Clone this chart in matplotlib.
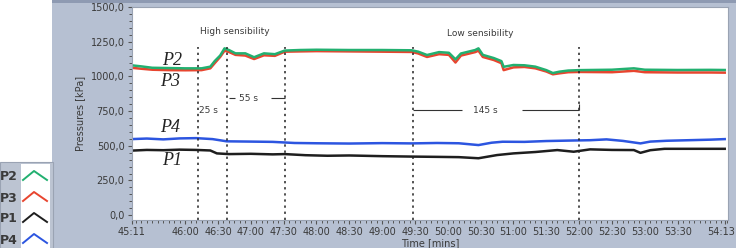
import matplotlib
matplotlib.use("Agg")
import matplotlib.pyplot as plt
from matplotlib.patches import Rectangle
from matplotlib.lines import Line2D
from matplotlib.ticker import MultipleLocator
from matplotlib.transforms import ScaledTranslation


def sec(s):
    m, ss = s.split(":")
    return int(m) * 60 + int(ss)


# P2 / P3 (upper pair)
t_up = ["45:11", "45:20", "45:30", "45:45", "46:00", "46:15", "46:23", "46:27", "46:32", "46:36",
        "46:40", "46:46", "46:55", "47:03", "47:12", "47:22", "47:31", "47:45", "48:00", "48:30",
        "49:00", "49:27", "49:33", "49:41", "49:52", "50:01", "50:07", "50:12", "50:25", "50:28",
        "50:32", "50:42", "50:49", "50:51", "51:00", "51:10", "51:20", "51:30", "51:36", "51:42",
        "51:50", "52:00", "52:30", "52:50", "53:00", "53:30", "54:00", "54:13"]
p2 = [1080, 1072, 1062, 1060, 1058, 1058, 1070, 1110, 1150, 1202,
      1190, 1166, 1166, 1138, 1166, 1160, 1186, 1190, 1192, 1190,
      1190, 1188, 1178, 1154, 1175, 1170, 1123, 1165, 1190, 1202,
      1155, 1132, 1110, 1069, 1082, 1080, 1070, 1045, 1024, 1034,
      1042, 1045, 1048, 1058, 1048, 1046, 1047, 1046]
p3 = [1062, 1055, 1048, 1045, 1044, 1045, 1058, 1095, 1140, 1185,
      1176, 1155, 1150, 1125, 1152, 1148, 1178, 1180, 1182, 1180,
      1178, 1176, 1165, 1140, 1160, 1155, 1100, 1150, 1175, 1185,
      1140, 1118, 1095, 1045, 1065, 1068, 1058, 1035, 1015, 1022,
      1030, 1032, 1030, 1040, 1030, 1028, 1028, 1027]

# P4
t_p4 = ["45:11", "45:25", "45:40", "45:55", "46:10", "46:25", "46:38", "47:00", "47:20", "47:40",
        "48:00", "48:30", "49:00", "49:27", "49:50", "50:10", "50:28", "50:40", "50:50", "51:10",
        "51:30", "51:55", "52:10", "52:25", "52:40", "52:56", "53:05", "53:20", "53:40", "54:00", "54:13"]
p4 = [548, 552, 546, 553, 555, 548, 532, 530, 528, 520,
      518, 516, 519, 517, 520, 518, 505, 522, 529, 528,
      534, 538, 540, 546, 535, 517, 530, 536, 540, 544, 548]

# P1
t_p1 = ["45:11", "45:25", "45:40", "45:55", "46:10", "46:23", "46:29", "46:40", "47:00", "47:20",
        "47:31", "47:50", "48:10", "48:30", "49:00", "49:27", "49:50", "50:10", "50:28", "50:45",
        "51:00", "51:20", "51:40", "51:55", "52:10", "52:30", "52:50", "52:56", "53:05", "53:18",
        "53:40", "54:13"]
p1 = [465, 470, 468, 472, 470, 466, 445, 440, 442, 438,
      440, 432, 428, 430, 425, 422, 420, 418, 410, 433,
      445, 455, 469, 457, 474, 470, 469, 449, 468, 478,
      478, 478]

markers = ["46:12", "46:38", "47:31", "49:28", "52:00"]
xtick_labels = ["45:11", "46:00", "46:30", "47:00", "47:30", "48:00", "48:30", "49:00", "49:30",
                "50:00", "50:30", "51:00", "51:30", "52:00", "52:30", "53:00", "53:30", "54:13"]
yticks = [0, 250, 500, 750, 1000, 1250, 1500]

c_p2, c_p3, c_p1, c_p4 = "#22b070", "#e8452f", "#1e1e1e", "#2c55e0"
panel = "#b6c0d2"
txt = "#3a3a3a"

fig = plt.figure(figsize=(7.36, 2.48), dpi=100)
fig.patch.set_facecolor("white")

# grey panel behind the chart
fig.add_artist(Rectangle((52 / 736, 0), 1, 1, transform=fig.transFigure,
                         facecolor=panel, edgecolor="none", zorder=-5))
fig.add_artist(Rectangle((52 / 736, 1 - 3 / 248), 1, 3 / 248, transform=fig.transFigure,
                         facecolor="#8e9ab2", edgecolor="none", zorder=-4))

ax = fig.add_axes([131.5 / 736, 1 - 220 / 248, (728 - 131.5) / 736, 213 / 248])
ax.set_facecolor("white")

ax.plot([sec(t) for t in t_up], p3, color=c_p3, lw=1.8)
ax.plot([sec(t) for t in t_up], p2, color=c_p2, lw=1.8)
ax.plot([sec(t) for t in t_p4], p4, color=c_p4, lw=1.8)
ax.plot([sec(t) for t in t_p1], p1, color=c_p1, lw=1.8)

ms = [sec(t) for t in markers]
ax.vlines(ms, -35, 1215, colors="#222222", linestyles=(0, (1.5, 2.5)), lw=1.1)

ax.set_xlim(sec("45:11"), sec("54:13") + 3)
ax.set_ylim(-35, 1500)
ax.set_xticks([sec(t) for t in xtick_labels])
ax.set_xticklabels(xtick_labels)
ax.set_yticks(yticks)
ax.set_yticklabels([f"{v:.1f}".replace(".", ",") for v in yticks])
ax.xaxis.set_minor_locator(MultipleLocator(5))
ax.yaxis.set_minor_locator(MultipleLocator(50))
ax.tick_params(which="major", length=3, width=0.8, color="#555555", labelsize=7, labelcolor=txt, pad=2)
ax.tick_params(which="minor", length=2, width=0.7, color="#555555")
for s in ax.spines.values():
    s.set_color("#9aa3b3")
    s.set_linewidth(0.8)

# last tick label sits against the right edge
last = ax.get_xticklabels()[-1]
last.set_horizontalalignment("right")
last.set_transform(last.get_transform() + ScaledTranslation(10 / 100, 0, fig.dpi_scale_trans))

ax.set_xlabel("Time [mins]", fontsize=7, color=txt, labelpad=1)
ax.set_ylabel("Pressures [kPa]", fontsize=7, color=txt, labelpad=4)

# annotations
ax.text(sec("46:45"), 1320, "High sensibility", fontsize=6.5, color=txt, ha="center", va="center")
ax.text(sec("50:30"), 1310, "Low sensibility", fontsize=6.5, color=txt, ha="center", va="center")
ax.text(ms[0] + 1, 757, "25 s", fontsize=6.5, color=txt, ha="left", va="center")
ax.hlines(843, ms[1] + 2, sec("46:46"), color="#333333", lw=0.8)
ax.hlines(843, sec("47:18"), ms[2], color="#333333", lw=0.8)
ax.text(sec("46:58"), 843, "55 s", fontsize=6.5, color=txt, ha="center", va="center")
ax.hlines(757, ms[3], sec("50:13"), color="#333333", lw=0.8)
ax.hlines(757, sec("51:08"), ms[4], color="#333333", lw=0.8)
ax.vlines(ms[4], 757, 800, color="#333333", lw=0.8)
ax.text(sec("50:34"), 757, "145 s", fontsize=6.5, color=txt, ha="center", va="center")

serif = dict(family=["Liberation Serif", "DejaVu Serif"], style="italic", fontsize=13, color="#222222",
             ha="center", va="center")
ax.text(sec("45:48"), 1118, "P2", **serif)
ax.text(sec("45:46"), 960, "P3", **serif)
ax.text(sec("45:46"), 635, "P4", **serif)
ax.text(sec("45:48"), 397, "P1", **serif)

# legend block at lower left
fig.add_artist(Rectangle((0, 0), 53 / 736, 86 / 248, transform=fig.transFigure,
                         facecolor="#bcc4d2", edgecolor="#9aa3b3", lw=0.8, zorder=-3))
fig.add_artist(Rectangle((21 / 736, 0), 29 / 736, 84 / 248, transform=fig.transFigure,
                         facecolor="white", edgecolor="none", zorder=-2))
leg_names = ["P2", "P3", "P1", "P4"]
leg_cols = [c_p2, c_p3, c_p1, c_p4]
for i, (n, c) in enumerate(zip(leg_names, leg_cols)):
    yc = 177 + i * 21
    fig.text(0, 1 - yc / 248, n, fontsize=9, fontweight="bold", color="#3a3a3a",
             ha="left", va="center")
    fig.add_artist(Line2D([23 / 736, 34 / 736, 47 / 736],
                          [1 - (yc + 3) / 248, 1 - (yc - 6) / 248, 1 - (yc + 3) / 248],
                          transform=fig.transFigure, color=c, lw=1.4))

fig.savefig("out.png", dpi=100)
